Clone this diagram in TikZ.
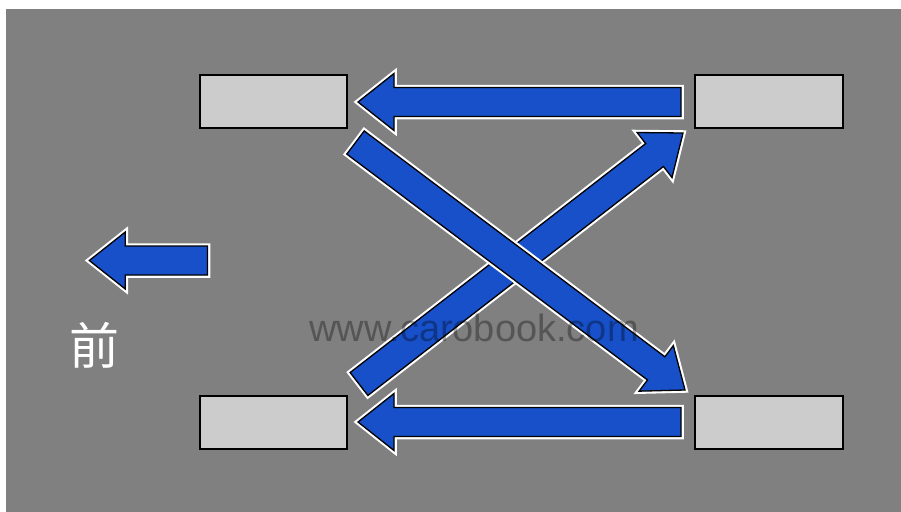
\documentclass[tikz,border=0pt]{standalone}
\usepackage{fontspec}
\newfontfamily\cjkfont{Noto Sans CJK SC}
\newfontfamily\wmfont{Liberation Sans}
\usetikzlibrary{calc}
\definecolor{bggray}{HTML}{808080}
\definecolor{wheelgray}{HTML}{CCCCCC}
\definecolor{arrowblue}{HTML}{1750C8}
\tikzset{
  wheel/.style={draw=black, fill=wheelgray, line width=1.6pt, minimum width=147.5pt, minimum height=53.5pt, inner sep=0pt},
  blockarrow/.style={fill=arrowblue, draw=black, line width=1.3pt, line join=miter,
    preaction={draw=white, line width=5.5pt, line join=miter}},
}
% block arrow from tail coordinate #1 to tip coordinate #2
\newcommand{\bigarrow}[2]{%
  \path ($(#2)!36pt!(#1)$) coordinate (hb);
  \draw[blockarrow] ($(#1)!14.5pt!90:(#2)$) -- ($(hb)!14.5pt!-90:(#1)$) -- ($(hb)!28.5pt!-90:(#1)$)
    -- (#2) -- ($(hb)!28.5pt!90:(#1)$) -- ($(hb)!14.5pt!90:(#1)$) -- ($(#1)!14.5pt!-90:(#2)$) -- cycle;}
\begin{document}
\begin{tikzpicture}[x=1pt,y=-1pt]
        \useasboundingbox (0,0) rectangle (901,511);
        \clip (0,0) rectangle (901,511);
        \fill[bggray] (6,9) rectangle (905,515);
        % wheels
        \node[wheel] at (273.5,101.5) (FL) {};
        \node[wheel] at (769,101.5)   (FR) {};
        \node[wheel] at (273.5,422.5) (RL) {};
        \node[wheel] at (769,422.5)   (RR) {};
        % arrow ends
        \coordinate (topT) at (681,102);
        \coordinate (topH) at (358,102);
        \coordinate (botT) at (681,422);
        \coordinate (botH) at (358,422);
        \coordinate (crossAT) at (355.5,142.5);
        \coordinate (crossAH) at (685,390);
        \coordinate (crossBT) at (359,384);
        \coordinate (crossBH) at (683,133);
        \coordinate (fwdT) at (207.5,260.5);
        \coordinate (fwdH) at (89.3,260.5);
        \bigarrow{topT}{topH}
        \bigarrow{botT}{botH}
        \bigarrow{fwdT}{fwdH}
        \bigarrow{crossBT}{crossBH}
        \bigarrow{crossAT}{crossAH}
        \node[text=white, font=\cjkfont\fontsize{50}{50}\selectfont] at (94,345) (front) {前};
        \node[anchor=base, text=black, text opacity=0.33, font=\wmfont\fontsize{38}{38}\selectfont] at (474,341) (wm) {www.carobook.com};
      \end{tikzpicture}
\end{document}
